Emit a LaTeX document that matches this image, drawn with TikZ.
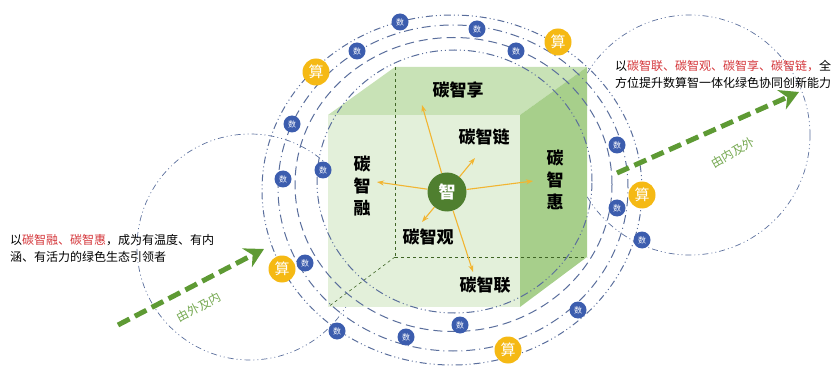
\documentclass[tikz,border=0pt]{standalone}
\usepackage{fontspec}
\newfontfamily\cjk{Noto Sans CJK SC}
\usetikzlibrary{arrows.meta}
\definecolor{ringblue}{HTML}{5A6E9C}
\definecolor{shublue}{HTML}{3C5DAE}
\definecolor{suanyellow}{HTML}{F5B914}
\definecolor{zhigreen}{HTML}{4F7F2F}
\definecolor{arrowgreen}{HTML}{5E9A34}
\definecolor{frontface}{HTML}{E3F0DA}
\definecolor{topface}{HTML}{C8E2B6}
\definecolor{sideface}{HTML}{A7CF8B}
\definecolor{goldline}{HTML}{F2B531}
\definecolor{keyred}{HTML}{D4373B}

\begin{document}
\begin{tikzpicture}[x=1pt, y=-1pt, font=\cjk,
    shu/.style ={circle, fill=shublue, text=white, inner sep=0pt, minimum size=17pt, font=\cjk\fontsize{8}{8}\selectfont},
    suan/.style ={circle, fill=suanyellow, text=white, inner sep=0pt, minimum size=27pt, font=\cjk\fontsize{15}{15}\selectfont},
    tanlabel/.style ={font=\cjk\bfseries\fontsize{17}{22}\selectfont, align=center, inner sep=0pt},
    ray/.style ={draw=goldline, line width=1.1pt, -{Stealth[length=7pt,width=5pt]}},
    ring/.style ={draw=ringblue, line width=1pt},
    bigring/.style ={draw=ringblue, line width=0.7pt, dash pattern=on 6pt off 3pt on 1pt off 3pt on 1pt off 3pt},
    flow/.style ={draw=arrowgreen, line width=5pt, dash pattern=on 13pt off 6pt, -{Stealth[length=19pt,width=21pt]}},
    flowtext/.style ={text=arrowgreen!85!white, font=\cjk\fontsize{12}{12}\selectfont, inner sep=1pt},
    remark/.style ={align=left, font=\cjk\fontsize{12}{17}\selectfont, inner sep=0pt}]
   \useasboundingbox (0,0) rectangle (840,366);

   \draw[bigring] (250,247) circle[radius=113pt];
   \draw[bigring] (690,135) circle[radius=120pt];

   \coordinate (A) at (328,115);
   \coordinate (B) at (520,115);
   \coordinate (C) at (520,307);
   \coordinate (D) at (328,307);
   \coordinate (E) at (395,67);
   \coordinate (F) at (587,67);
   \coordinate (G) at (587,257);
   \coordinate (H) at (395,257);
   \fill[frontface] (A) -- (B) -- (C) -- (D) -- cycle;
   \fill[topface] (A) -- (E) -- (F) -- (B) -- cycle;
   \fill[sideface] (B) -- (F) -- (G) -- (C) -- cycle;
   \draw[zhigreen!80!black, dashed, line width=0.6pt] (E) -- (H);
   \draw[zhigreen!80!black, dashed, line width=0.6pt] (H) -- (G);
   \draw[zhigreen!80!black, dashed, line width=0.6pt] (H) -- (D);

   \draw[ring, dash pattern=on 7pt off 3pt on 1pt off 3pt on 1pt off 3pt] (452,190) ellipse[x radius=190pt, y radius=175pt];
   \draw[ring, dash pattern=on 9pt off 4pt on 1pt off 4pt] (453,188) ellipse[x radius=175pt, y radius=163pt];
   \draw[ring, dash pattern=on 9pt off 5pt] (453.5,184.5) ellipse[x radius=158.5pt, y radius=147pt];
   \draw[ring, dash pattern=on 8pt off 3pt on 1pt off 3pt on 1pt off 3pt] (454.5,181.5) ellipse[x radius=137.5pt, y radius=131.5pt];

   \node[shu] (shu1) at (400,22) {数};
   \node[shu] (shu2) at (477,29) {数};
   \node[shu] (shu3) at (357,51) {数};
   \node[shu] (shu4) at (516,51) {数};
   \node[shu] (shu5) at (292,124) {数};
   \node[shu] (shu6) at (323,170) {数};
   \node[shu] (shu7) at (283,179) {数};
   \node[shu] (shu8) at (305,263) {数};
   \node[shu] (shu9) at (337,331) {数};
   \node[shu] (shu10) at (406,337) {数};
   \node[shu] (shu11) at (460,325) {数};
   \node[shu] (shu12) at (578,310) {数};
   \node[shu] (shu13) at (617,145) {数};
   \node[shu] (shu14) at (617,208) {数};
   \node[shu] (shu15) at (642,240) {数};

   \node[suan] (suan1) at (316,72) {算};
   \node[suan] (suan2) at (558,42) {算};
   \node[suan] (suan3) at (282,269) {算};
   \node[suan] (suan4) at (642,195) {算};
   \node[suan] (suan5) at (508,350) {算};

   \node[circle, fill=zhigreen, text=white, minimum size=39pt, inner sep=0pt, font=\cjk\bfseries\fontsize{17}{17}\selectfont] (zhi) at (447,192) {智};

   \node[tanlabel] (xiang) at (458,90) {碳智享};
   \node[tanlabel] (lian) at (484,137) {碳智链};
   \node[tanlabel] (hui) at (555,180) {碳\\智\\惠};
   \node[tanlabel] (rong) at (362,186) {碳\\智\\融};
   \node[tanlabel] (guan) at (428,237) {碳智观};
   \node[tanlabel] (lianhe) at (485,285) {碳智联};

   \coordinate (toXiang) at (422,105);
   \coordinate (toLian) at (475,158);
   \coordinate (toHui) at (533,181);
   \coordinate (toRong) at (377,182);
   \coordinate (toGuan) at (422,222);
   \coordinate (toLianhe) at (473,272);
   \draw[ray] (zhi) -- (toXiang);
   \draw[ray] (zhi) -- (toLian);
   \draw[ray] (zhi) -- (toHui);
   \draw[ray] (zhi) -- (toRong);
   \draw[ray] (zhi) -- (toGuan);
   \draw[ray] (zhi) -- (toLianhe);

   \coordinate (inStart) at (118,325);
   \coordinate (inEnd) at (264,249);
   \coordinate (outStart) at (617,173);
   \coordinate (outEnd) at (799,92);
   \draw[flow] (inStart) -- (inEnd);
   \draw[flow] (outStart) -- (outEnd);
   \node[flowtext, rotate=28] (inward) at (199,307) {由外及内};
   \node[flowtext, rotate=30] (outward) at (733,153) {由内及外};

   \node[remark, anchor=west] (leftnote) at (10,248) {以\textcolor{keyred}{碳智融、碳智惠}，成为有温度、有内\\涵、有活力的绿色生态引领者};
   \node[remark, anchor=west] (rightnote) at (615,74) {以\textcolor{keyred}{碳智联、碳智观、碳智享、碳智链，}全\\方位提升数算智一体化绿色协同创新能力};
 \end{tikzpicture}
\end{document}
